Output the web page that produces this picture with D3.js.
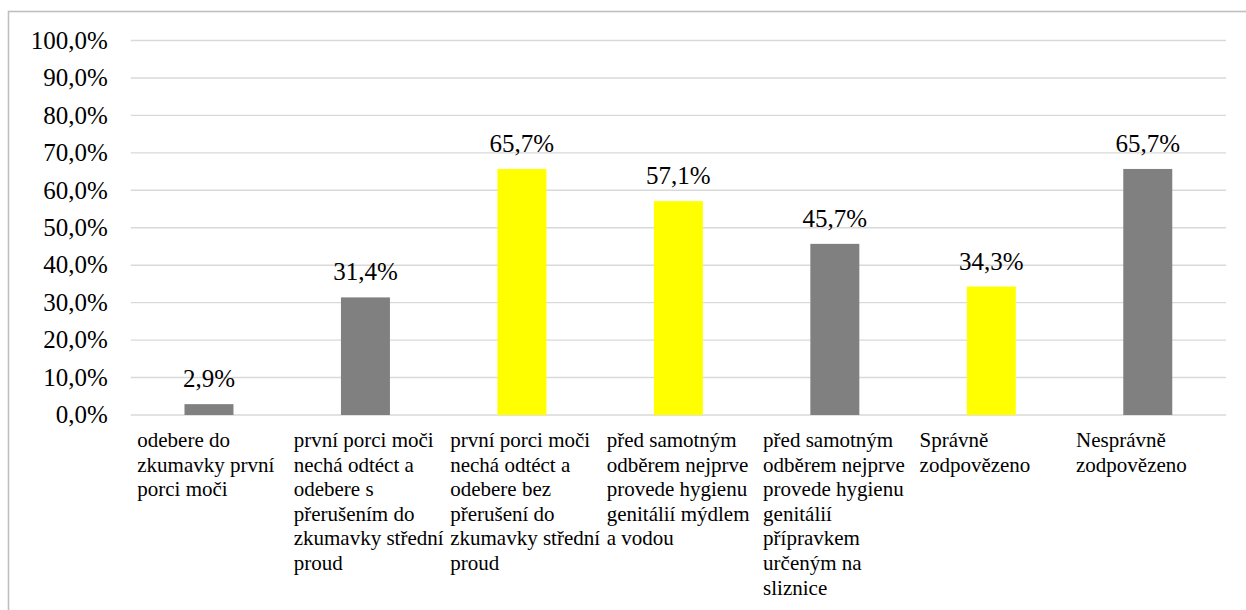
<!DOCTYPE html>
<html><head><meta charset="utf-8">
<script src="https://cdn.jsdelivr.net/npm/d3@7"></script>
<style>body{margin:0;background:#fff}</style>
</head><body>
<script>
const categories = [
  ["odebere do", "zkumavky první", "porci moči"],
  ["první porci moči", "nechá odtéct a", "odebere s", "přerušením do", "zkumavky střední", "proud"],
  ["první porci moči", "nechá odtéct a", "odebere bez", "přerušení do", "zkumavky střední", "proud"],
  ["před samotným", "odběrem nejprve", "provede hygienu", "genitálií mýdlem", "a vodou"],
  ["před samotným", "odběrem nejprve", "provede hygienu", "genitálií", "přípravkem", "určeným na", "sliznice"],
  ["Správně", "zodpovězeno"],
  ["Nesprávně", "zodpovězeno"]
];
const values = [2.9, 31.4, 65.7, 57.1, 45.7, 34.3, 65.7];
const barColors = ["#808080", "#808080", "#FFFF00", "#FFFF00", "#808080", "#FFFF00", "#808080"];
const yTicks = [0, 10, 20, 30, 40, 50, 60, 70, 80, 90, 100];

const W = 1246, H = 610;
const svg = d3.select("body").append("svg").attr("width", W).attr("height", H)
  .style("font-family", '"Liberation Serif"');

svg.append("rect").attr("x", 8.5).attr("y", 11.5).attr("width", W + 10).attr("height", H + 10)
  .attr("fill", "none").attr("stroke", "#bfbfbf").attr("stroke-width", 1.6);

const pLeft = 130.75, pRight = 1226, pTop = 40.5, pBottom = 415;
const x = d3.scaleBand().domain(d3.range(values.length)).range([pLeft, pRight]);
const y = d3.scaleLinear().domain([0, 100]).range([pBottom, pTop]);
const bw = 49;

svg.append("g").selectAll("line").data(yTicks).join("line")
  .attr("x1", pLeft).attr("x2", pRight)
  .attr("y1", d => y(d)).attr("y2", d => y(d))
  .attr("stroke", "#d9d9d9").attr("stroke-width", 1.4);

const ga = svg.append("g");
ga.selectAll("text").data(yTicks).join("text")
  .attr("x", pLeft - 23).attr("y", d => y(d)).attr("dy", "0.33em")
  .attr("text-anchor", "end").attr("font-size", 25)
  .style("font-family", '"Liberation Serif"')
  .text(d => d.toFixed(1).replace(".", ",") + "%");

svg.append("g").selectAll("rect").data(values).join("rect")
  .attr("x", (d, i) => x(i) + x.bandwidth() / 2 - bw / 2)
  .attr("width", bw)
  .attr("y", d => y(d))
  .attr("height", d => pBottom - y(d))
  .attr("fill", (d, i) => barColors[i]);

svg.append("g").selectAll("text").data(values).join("text")
  .attr("x", (d, i) => x(i) + x.bandwidth() / 2)
  .attr("y", d => y(d) - 17)
  .attr("text-anchor", "middle").attr("font-size", 25)
  .style("font-family", '"Liberation Serif"')
  .text(d => d.toFixed(1).replace(".", ",") + "%");

const cl = svg.append("g").selectAll("text").data(categories).join("text")
  .attr("font-size", 21).style("font-family", '"Liberation Serif"');
cl.each(function (lines, i) {
  d3.select(this).selectAll("tspan").data(lines).join("tspan")
    .attr("x", x(i) + 6.5)
    .attr("y", (l, j) => 447 + j * 24.6)
    .text(l => l);
});
</script>
</body></html>
